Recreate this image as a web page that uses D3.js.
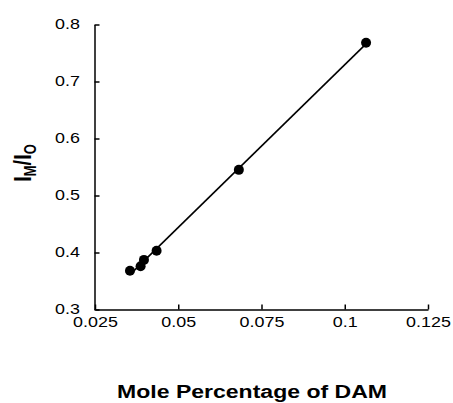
<!DOCTYPE html>
<html>
<head>
<meta charset="utf-8">
<script src="https://cdn.jsdelivr.net/npm/d3@7"></script>
<style>
  body { margin: 0; background: #fff; }
  svg { display: block; }
  .axis path, .axis line { stroke: #000; stroke-width: 1.5; }
  .axis text { font-family: "Liberation Sans", Arial, sans-serif; font-size: 14px; fill: #000; }
</style>
</head>
<body>
<svg id="chart" width="453" height="403"></svg>
<script>
// mole percentage of DAM vs intensity ratio IM/IO
const molePct = [0.0355, 0.0387, 0.0397, 0.0435, 0.0682, 0.1064];
const ratio = [0.368, 0.376, 0.387, 0.403, 0.545, 0.768];
const xTicks = [0.025, 0.05, 0.075, 0.1, 0.125];
const yTicks = [0.3, 0.4, 0.5, 0.6, 0.7, 0.8];

const svg = d3.select("#chart");
const font = "'Liberation Sans', Arial, sans-serif";
const stretch = 1.28; // the scanned glyphs are wider than Arial

const x = d3.scaleLinear().domain([0.025, 0.125]).range([95, 428]);
const y = d3.scaleLinear().domain([0.3, 0.8]).range([309.5, 24.5]);

const gx = svg.append("g")
    .attr("class", "axis")
    .attr("transform", "translate(0,309.5)")
    .call(d3.axisBottom(x).tickValues(xTicks).tickFormat(d => String(+d.toFixed(3)))
        .tickSizeInner(-5).tickSizeOuter(0).tickPadding(7.5));
gx.selectAll(".tick text").attr("transform", `scale(${stretch},1)`);

const gy = svg.append("g")
    .attr("class", "axis")
    .attr("transform", "translate(94.5,0)")
    .call(d3.axisLeft(y).tickValues(yTicks).tickFormat(d3.format(".1f"))
        .tickSizeInner(-5).tickSizeOuter(0).tickPadding(14.5));
gy.selectAll(".tick text")
    .attr("x", 0)
    .attr("transform", `translate(-14.5,0) scale(${stretch},1)`);

// least squares fit line
const n = molePct.length;
const mx = d3.mean(molePct), my = d3.mean(ratio);
let sxy = 0, sxx = 0;
for (let i = 0; i < n; i++) {
    sxy += (molePct[i] - mx) * (ratio[i] - my);
    sxx += (molePct[i] - mx) * (molePct[i] - mx);
}
const slope = sxy / sxx;
const icpt = my - slope * mx;
const x0 = d3.min(molePct), x1 = d3.max(molePct);

svg.append("line")
    .attr("x1", x(x0)).attr("y1", y(icpt + slope * x0))
    .attr("x2", x(x1)).attr("y2", y(icpt + slope * x1))
    .attr("stroke", "#000")
    .attr("stroke-width", 1.6);

svg.selectAll("circle.pt")
    .data(molePct)
    .join("circle")
    .attr("class", "pt")
    .attr("cx", d => x(d))
    .attr("cy", (d, i) => y(ratio[i]))
    .attr("r", 5)
    .attr("fill", "#000");

// axis titles
svg.append("text")
    .attr("transform", `translate(252,398) scale(${stretch},1)`)
    .attr("text-anchor", "middle")
    .attr("font-family", font)
    .attr("font-weight", "bold")
    .attr("font-size", 18)
    .text("Mole Percentage of DAM");

const yl = svg.append("text")
    .attr("transform", "translate(31,163) scale(1.2,1) rotate(-90)")
    .attr("text-anchor", "middle")
    .attr("font-family", font)
    .attr("font-weight", "bold")
    .attr("font-size", 20);
yl.append("tspan").text("I");
yl.append("tspan").attr("font-size", 13).attr("dy", 4).text("M");
yl.append("tspan").attr("dy", -4).text("/I");
yl.append("tspan").attr("font-size", 13).attr("dy", 4).text("O");
</script>
</body>
</html>
